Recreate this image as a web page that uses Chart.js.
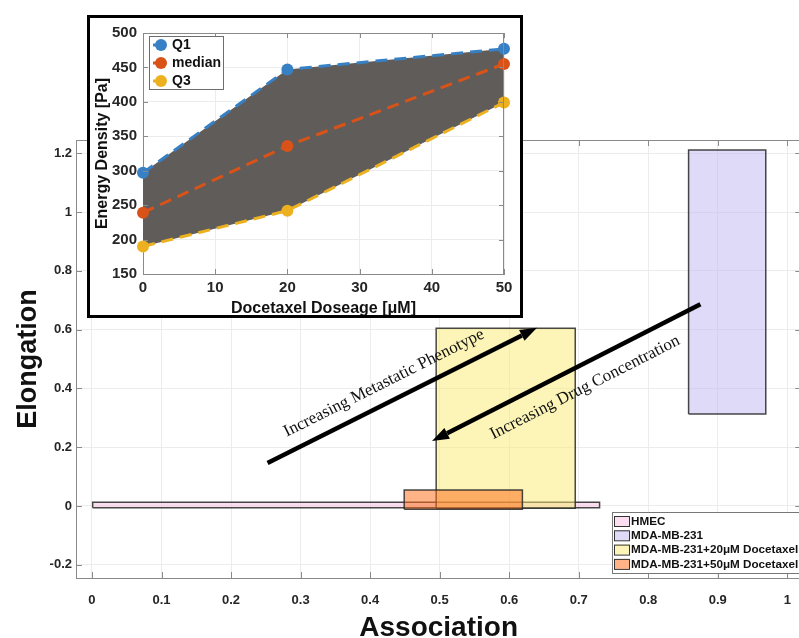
<!DOCTYPE html>
<html>
<head>
<meta charset="utf-8">
<script src="https://cdn.jsdelivr.net/npm/chart.js@4.4.0/dist/chart.umd.min.js"></script>
<style>
html, body { margin: 0; padding: 0; background: #fff; overflow: hidden; }
#wrap { position: relative; width: 799px; height: 638px; overflow: hidden; }
#main { position: absolute; left: 0; top: 0; }
#insetBox { position: absolute; left: 87px; top: 15px; width: 436px; height: 303px; border: 3px solid #000; box-sizing: border-box; background: #fff; }
#inset { position: absolute; left: 0; top: 0; }
</style>
</head>
<body>
<div id="wrap">
  <canvas id="main" width="806" height="638"></canvas>
  <div id="insetBox"><canvas id="inset" width="430" height="297"></canvas></div>
</div>
<script>
// --- main chart data: one box per group ---
const groups = ['HMEC', 'MDA-MB-231', 'MDA-MB-231+20\u03bcM Docetaxel', 'MDA-MB-231+50\u03bcM Docetaxel'];
const assocLow  = [0.001, 0.858, 0.495, 0.449];
const assocHigh = [0.730, 0.969, 0.695, 0.619];
const elongLow  = [-0.006, 0.313, -0.008, -0.011];
const elongHigh = [0.013, 1.211, 0.605, 0.054];
const xTicks = [0, 0.1, 0.2, 0.3, 0.4, 0.5, 0.6, 0.7, 0.8, 0.9, 1];
const yTicks = [-0.2, 0, 0.2, 0.4, 0.6, 0.8, 1, 1.2];

// arrows (data coords) and their captions
const arrowLabels = ['Increasing Metastatic Phenotype', 'Increasing Drug Concentration'];
const arrowFrom = [[0.2525, 0.146], [0.875, 0.686]];
const arrowTo   = [[0.640, 0.606], [0.489, 0.221]];
const labelAt   = [[0.420, 0.418], [0.709, 0.403]];

// --- inset data ---
const doses = [0, 20, 50];
const q1 = [297, 447, 477];
const median = [239, 336, 455];
const q3 = [190, 242, 399];
const doseTicks = [0, 10, 20, 30, 40, 50];
const energyTicks = [150, 200, 250, 300, 350, 400, 450, 500];

const boxFills = ['rgba(247,192,226,0.5)', 'rgba(190,182,240,0.5)', 'rgba(250,236,112,0.5)', 'rgba(255,110,25,0.52)'];
const qColors = ['#3880c4', '#d95319', '#edb120'];

Chart.defaults.font.family = '"Liberation Sans", Arial, sans-serif';
Chart.defaults.color = '#262626';

const tickFont = { size: 13, weight: 'bold' };
const gridCol = '#ececec';
const axisCol = '#8a8a8a';

// inside tick marks + box on top/right, like matlab
function drawBoxTicks(chart, xt, yt, len) {
  const { ctx, chartArea: a, scales: { x, y } } = chart;
  ctx.save();
  ctx.strokeStyle = axisCol;
  ctx.lineWidth = 1;
  ctx.beginPath();
  ctx.moveTo(a.left, a.top + 0.5); ctx.lineTo(a.right, a.top + 0.5);
  ctx.moveTo(a.right - 0.5, a.top); ctx.lineTo(a.right - 0.5, a.bottom);
  xt.forEach(v => {
    const px = Math.round(x.getPixelForValue(v)) + 0.5;
    ctx.moveTo(px, a.bottom); ctx.lineTo(px, a.bottom - len);
    ctx.moveTo(px, a.top); ctx.lineTo(px, a.top + len);
  });
  yt.forEach(v => {
    const py = Math.round(y.getPixelForValue(v)) + 0.5;
    ctx.moveTo(a.left, py); ctx.lineTo(a.left + len, py);
    ctx.moveTo(a.right, py); ctx.lineTo(a.right - len, py);
  });
  ctx.stroke();
  ctx.restore();
}

const mainDecor = {
  id: 'mainDecor',
  afterDatasetsDraw(chart) {
    const { ctx, scales: { x, y } } = chart;
    ctx.save();
    ctx.strokeStyle = '#000';
    ctx.fillStyle = '#000';
    ctx.lineWidth = 4.5;
    for (let i = 0; i < arrowFrom.length; i++) {
      const x0 = x.getPixelForValue(arrowFrom[i][0]), y0 = y.getPixelForValue(arrowFrom[i][1]);
      const x1 = x.getPixelForValue(arrowTo[i][0]), y1 = y.getPixelForValue(arrowTo[i][1]);
      const ang = Math.atan2(y1 - y0, x1 - x0);
      const head = 17, half = 6;
      const bx = x1 - head * Math.cos(ang), by = y1 - head * Math.sin(ang);
      ctx.beginPath(); ctx.moveTo(x0, y0); ctx.lineTo(bx, by); ctx.stroke();
      ctx.beginPath();
      ctx.moveTo(x1, y1);
      ctx.lineTo(bx + half * Math.sin(ang), by - half * Math.cos(ang));
      ctx.lineTo(bx - half * Math.sin(ang), by + half * Math.cos(ang));
      ctx.closePath(); ctx.fill();

      let ta = ang;
      if (Math.cos(ta) < 0) ta += Math.PI;
      ctx.save();
      ctx.translate(x.getPixelForValue(labelAt[i][0]), y.getPixelForValue(labelAt[i][1]));
      ctx.rotate(ta);
      ctx.font = '17px "Liberation Serif", serif';
      ctx.fillStyle = '#111';
      ctx.textAlign = 'center';
      ctx.textBaseline = 'middle';
      ctx.fillText(arrowLabels[i], 0, 0);
      ctx.restore();
    }
    ctx.restore();
  },
  afterDraw(chart) {
    drawBoxTicks(chart, xTicks, yTicks, 6);
    // legend, bottom right
    const { ctx } = chart;
    ctx.save();
    ctx.fillStyle = '#fff';
    ctx.fillRect(612, 512, 200, 61);
    ctx.strokeStyle = '#777';
    ctx.lineWidth = 1;
    ctx.strokeRect(612.5, 512.5, 200, 61);
    ctx.font = 'bold 11.7px "Liberation Sans", Arial, sans-serif';
    ctx.textBaseline = 'middle';
    chart.data.datasets.forEach((ds, i) => {
      const cy = 521 + i * 14.3;
      ctx.fillStyle = '#fff';
      ctx.fillRect(614, cy - 5, 15, 10);
      ctx.fillStyle = ds.backgroundColor;
      ctx.fillRect(614, cy - 5, 15, 10);
      ctx.strokeStyle = '#333';
      ctx.strokeRect(614.5, cy - 4.5, 15, 10);
      ctx.fillStyle = '#111';
      ctx.fillText(ds.label, 631, cy + 0.5);
    });
    ctx.restore();
  }
};

const boxSets = groups.map((g, i) => ({
  label: g,
  data: [
    { x: assocLow[i], y: elongLow[i] },
    { x: assocHigh[i], y: elongLow[i] },
    { x: assocHigh[i], y: elongHigh[i] },
    { x: assocLow[i], y: elongHigh[i] },
    { x: assocLow[i], y: elongLow[i] }
  ],
  showLine: true,
  fill: 'shape',
  backgroundColor: boxFills[i],
  borderColor: 'rgba(40,40,40,0.85)',
  borderWidth: 1.5,
  pointRadius: 0,
  order: groups.length - i
}));

new Chart(document.getElementById('main'), {
  type: 'scatter',
  data: { datasets: boxSets },
  options: {
    responsive: false,
    animation: false,
    devicePixelRatio: 1,
    layout: { padding: { top: 140, right: 3, left: 0, bottom: 0 } },
    plugins: {
      legend: { display: false },
      tooltip: { enabled: false },
      filler: { drawTime: 'beforeDatasetDraw' }
    },
    scales: {
      x: {
        type: 'linear', min: -0.02296, max: 1.0201,
        afterBuildTicks: s => { s.ticks = xTicks.map(v => ({ value: v })); },
        afterFit: s => { s.height = 60; },
        ticks: { font: tickFont, padding: 15, maxRotation: 0, autoSkip: false, callback: v => String(v) },
        grid: { color: gridCol, drawTicks: false },
        border: { color: axisCol },
        title: { display: true, text: 'Association', color: '#111', padding: 0,
                 font: { size: 28, weight: 'bold', lineHeight: 0.7 } }
      },
      y: {
        type: 'linear', min: -0.2449, max: 1.2449,
        afterBuildTicks: s => { s.ticks = yTicks.map(v => ({ value: v })); },
        afterFit: s => { s.width = 76; },
        ticks: { font: tickFont, padding: 4, autoSkip: false, callback: v => String(v) },
        grid: { color: gridCol, drawTicks: false },
        border: { color: axisCol },
        title: { display: true, text: 'Elongation', color: '#111', padding: { top: 12, bottom: 0 },
                 font: { size: 27, weight: 'bold', lineHeight: 1.2 } }
      }
    }
  },
  plugins: [mainDecor]
});

// --- inset ---
const insetDecor = {
  id: 'insetDecor',
  afterDraw(chart) {
    drawBoxTicks(chart, doseTicks, energyTicks, 5);
    const { ctx } = chart;
    const names = ['Q1', 'median', 'Q3'];
    ctx.save();
    ctx.fillStyle = '#fff';
    ctx.fillRect(59, 18, 74, 53);
    ctx.strokeStyle = '#6e6e6e';
    ctx.lineWidth = 1;
    ctx.strokeRect(59.5, 18.5, 74, 53);
    ctx.font = 'bold 14px "Liberation Sans", Arial, sans-serif';
    ctx.textBaseline = 'middle';
    names.forEach((n, i) => {
      const cy = 27 + i * 18;
      ctx.strokeStyle = qColors[i];
      ctx.lineWidth = 3;
      ctx.beginPath(); ctx.moveTo(63, cy); ctx.lineTo(71, cy); ctx.stroke();
      ctx.fillStyle = qColors[i];
      ctx.beginPath(); ctx.arc(71, cy, 6, 0, Math.PI * 2); ctx.fill();
      ctx.fillStyle = '#111';
      ctx.fillText(n, 82, cy + 0.5);
    });
    ctx.restore();
  }
};

const qSeries = [q1, median, q3];
const qNames = ['Q1', 'median', 'Q3'];
const insetSets = qSeries.map((s, i) => ({
  label: qNames[i],
  data: doses.map((d, j) => ({ x: d, y: s[j] })),
  showLine: true,
  borderColor: qColors[i],
  backgroundColor: '#605c5a',
  fill: i === 0 ? 2 : false,
  borderWidth: 3,
  borderDash: [12, 7],
  pointRadius: 6,
  pointBackgroundColor: qColors[i],
  pointBorderColor: qColors[i],
  pointBorderWidth: 0,
  clip: false
}));

const insetTick = { size: 15, weight: 'bold' };
new Chart(document.getElementById('inset'), {
  type: 'scatter',
  data: { datasets: insetSets },
  options: {
    responsive: false,
    animation: false,
    devicePixelRatio: 1,
    layout: { padding: { top: 12, right: 16, left: 0, bottom: 0 } },
    plugins: {
      legend: { display: false },
      tooltip: { enabled: false },
      filler: { drawTime: 'beforeDatasetsDraw' }
    },
    scales: {
      x: {
        type: 'linear', min: 0, max: 50,
        afterBuildTicks: s => { s.ticks = doseTicks.map(v => ({ value: v })); },
        afterFit: s => { s.height = 41; },
        ticks: { font: insetTick, padding: 5, maxRotation: 0, autoSkip: false },
        grid: { color: gridCol, drawTicks: false },
        border: { color: axisCol },
        title: { display: true, text: 'Docetaxel Doseage [\u03bcM]', color: '#111', padding: 0,
                 font: { size: 16, weight: 'bold', lineHeight: 0.75 } }
      },
      y: {
        type: 'linear', min: 150, max: 500,
        afterBuildTicks: s => { s.ticks = energyTicks.map(v => ({ value: v })); },
        afterFit: s => { s.width = 53; },
        ticks: { font: insetTick, padding: 6, autoSkip: false },
        grid: { color: gridCol, drawTicks: false },
        border: { color: axisCol },
        title: { display: true, text: 'Energy Density [Pa]', color: '#111', padding: { top: 3, bottom: 0 },
                 font: { size: 16, weight: 'bold', lineHeight: 1.2 } }
      }
    }
  },
  plugins: [insetDecor]
});
</script>
</body>
</html>
